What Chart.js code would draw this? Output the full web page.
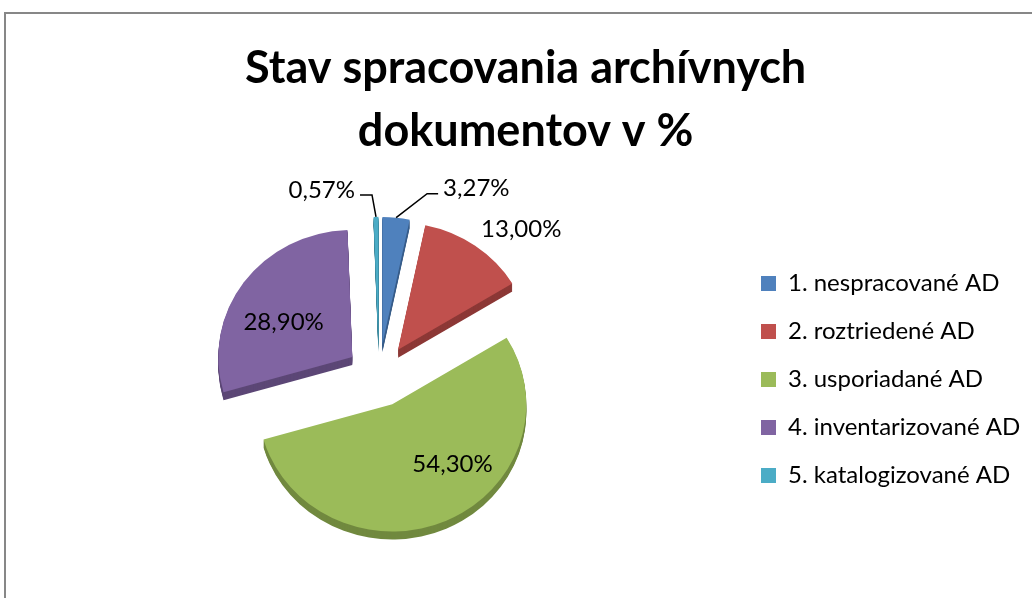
<!DOCTYPE html>
<html>
<head>
<meta charset="utf-8">
<script src="https://cdn.jsdelivr.net/npm/chart.js@4.4.1/dist/chart.umd.min.js"></script>
<style>
  html, body { margin: 0; padding: 0; background: #fff; overflow: hidden; }
  #wrap { position: relative; width: 1032px; height: 598px; }
  #frame { position: absolute; left: 4px; top: 12px; width: 1100px; height: 700px;
           border: 2px solid #878787; box-sizing: border-box; }
  canvas { position: absolute; left: 0; top: 0; }
</style>
</head>
<body>
<div id="wrap">
  <div id="frame"></div>
  <canvas id="chart" width="1032" height="598"></canvas>
</div>
<script>
// data
const categories = ['1. nespracované AD', '2. roztriedené AD', '3. usporiadané AD',
                    '4. inventarizované AD', '5. katalogizované AD'];
const shares     = [3.27, 13.00, 54.30, 28.90, 0.57];
const titleLines = ['Stav spracovania archívnych', 'dokumentov v %'];

// look
const faceColors = ['#4F81BD', '#C0504D', '#9BBB59', '#8064A2', '#4BACC6'];
const sideColors = ['#385D8A', '#8C3836', '#71893F', '#5C4776', '#357D91'];
const FONT       = 'Lato, "Open Sans", sans-serif';
const LEGEND_PX  = 24;
const LABEL_PX   = 24;
const LEG_PAD    = 24;
const TILT       = 0.95;   // vertical squash of the pie
const DEPTH      = 8;      // 3D rim thickness
const EXPLODE    = 33;     // distance each slice is pulled out
const PIE_X      = 379;
const PIE_R      = 134;

// where each value label sits: inside/outside at r*radius, turned from the bisector,
// or a callout with a bent leader line
const labelPlace = [
  { leader: true, elbow: [31, -24], run: 11 },
  { r: 1.32, turn: 9 },
  { r: 0.65, turn: -20 },
  { r: 0.58, turn: -8 },
  { leader: true, elbow: [-4, -22], run: -12 },
];

const fmt = v => v.toFixed(2).replace('.', ',') + '%';

// layout so the legend boxes start at x=761 and the pie centre is at PIE_X
const mctx = document.createElement('canvas').getContext('2d');
mctx.font = `${LEGEND_PX}px ${FONT}`;
const textW      = Math.max(...categories.map(c => mctx.measureText(c).width));
const legendW    = LEG_PAD + 15 + LEGEND_PX / 2 + textW + 10;
const legendLeft = 761 - LEG_PAD;
const padRight   = Math.max(0, 1032 - legendLeft - legendW);
const padLeft    = 2 * PIE_X - legendLeft;

function shift(arc) {
  const h = (arc.startAngle + arc.endAngle) / 2;
  return { h, dx: Math.cos(h) * EXPLODE, dy: Math.sin(h) * EXPLODE };
}

const pie3d = {
  id: 'pie3d',
  beforeDatasetDraw(chart, args) {
    const ctx  = chart.ctx;
    const arcs = args.meta.data;
    const cx = arcs[0].x, cy = arcs[0].y;
    const face = (arc, color, lift) => {
      const { dx, dy } = shift(arc);
      ctx.save();
      ctx.translate(0, lift);
      ctx.translate(cx, cy); ctx.scale(1, TILT); ctx.translate(-cx, -cy);
      ctx.translate(dx, dy);
      const saved = arc.options;
      if (color) arc.options = Object.assign({}, saved, { backgroundColor: color, borderWidth: 0 });
      arc.draw(ctx);
      arc.options = saved;
      ctx.restore();
    };
    for (let d = DEPTH; d > 0; d--) arcs.forEach((arc, i) => face(arc, sideColors[i], d));
    arcs.forEach(arc => face(arc, null, 0));
    return false;
  },
  afterDatasetsDraw(chart) {
    const ctx  = chart.ctx;
    const arcs = chart.getDatasetMeta(0).data;
    ctx.save();
    ctx.font = `${LABEL_PX}px ${FONT}`;
    ctx.fillStyle = '#000';
    ctx.strokeStyle = '#000';
    ctx.lineWidth = 1.5;
    ctx.textBaseline = 'middle';
    arcs.forEach((arc, i) => {
      const p = labelPlace[i];
      const { h, dx, dy } = shift(arc);
      const ox = arc.x + dx, oy = arc.y + dy * TILT;
      const R  = arc.outerRadius;
      const text = fmt(shares[i]);
      if (p.leader) {
        const ax = ox + Math.cos(h) * R, ay = oy + Math.sin(h) * R * TILT;
        const ex = ax + p.elbow[0], ey = ay + p.elbow[1];
        const tx = ex + p.run;
        ctx.beginPath();
        ctx.moveTo(ax, ay); ctx.lineTo(ex, ey); ctx.lineTo(tx, ey);
        ctx.stroke();
        ctx.textAlign = p.run > 0 ? 'left' : 'right';
        ctx.fillText(text, tx + (p.run > 0 ? 5 : -5), ey - 5);
      } else {
        const a = h + p.turn * Math.PI / 180;
        ctx.textAlign = 'center';
        ctx.fillText(text, ox + Math.cos(a) * R * p.r, oy + Math.sin(a) * R * p.r * TILT);
      }
    });
    ctx.restore();
  }
};

Chart.defaults.color = '#000';
Chart.defaults.font.family = FONT;

new Chart(document.getElementById('chart'), {
  type: 'pie',
  data: {
    labels: categories,
    datasets: [{
      data: shares,
      backgroundColor: faceColors,
      borderWidth: 0,
    }],
  },
  options: {
    responsive: false,
    animation: false,
    radius: PIE_R,
    layout: { padding: { top: 0, left: padLeft, right: padRight, bottom: 16 } },
    plugins: {
      title: {
        display: true,
        text: titleLines,
        font: { size: 45, weight: 'bold', lineHeight: 63 / 45 },
        padding: { top: 37, bottom: 6 },
      },
      legend: {
        position: 'right',
        fullSize: false,
        // tiny empty legend title nudges the entries a few px down
        title: { display: true, text: '', font: { size: 6, lineHeight: 1 }, padding: { top: 2, bottom: 0 } },
        labels: { boxWidth: 15, boxHeight: 15, padding: LEG_PAD, font: { size: LEGEND_PX } },
      },
      tooltip: { enabled: false },
    },
  },
  plugins: [pie3d],
});
</script>
</body>
</html>
